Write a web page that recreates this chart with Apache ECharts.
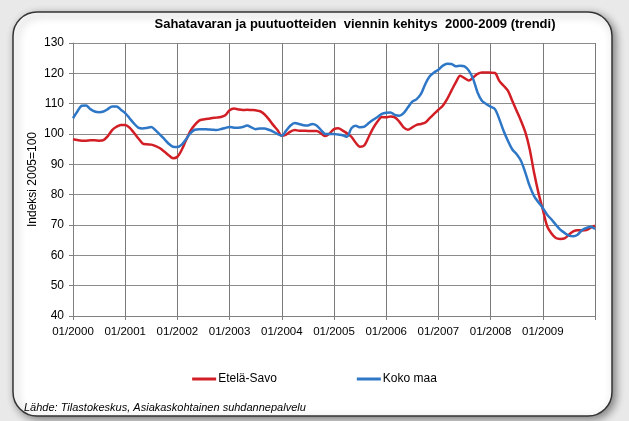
<!DOCTYPE html>
<html>
<head>
<meta charset="utf-8">
<script src="https://cdn.jsdelivr.net/npm/echarts@6/dist/echarts.min.js"></script>
<style>
  html, body { margin: 0; padding: 0; background: #e9e9e9; }
  #chart { width: 629px; height: 421px; }
</style>
</head>
<body>
<div id="chart"></div>
<script>
// kuukausittainen trendi-indeksi, 01/2000 - 01/2010 (2005=100)
const years = [2000, 2001, 2002, 2003, 2004, 2005, 2006, 2007, 2008, 2009, 2010];

const eteläSavo = [
  98.3, 98.0, 97.8, 97.8, 97.9, 97.9, 97.8, 98.0, 99.3, 101.3, 102.4, 103.0,
  103.0, 102.1, 100.4, 98.6, 96.9, 96.6, 96.5, 96.0, 95.3, 94.2, 93.0, 92.0,
  92.5, 94.8, 98.0, 101.0, 103.0, 104.4, 104.8, 105.0, 105.3, 105.4, 105.6, 106.2,
  107.8, 108.4, 108.1, 107.9, 108.0, 107.9, 107.8, 107.5, 106.5, 104.9, 103.0, 101.3,
  99.4, 99.8, 100.8, 101.3, 101.1, 101.1, 101.0, 101.0, 101.0, 100.2, 99.3, 100.2,
  101.6, 101.9, 101.1, 100.2, 99.1, 97.1, 95.8, 96.3, 99.1, 101.9, 104.1, 105.6,
  105.5, 105.8, 105.5, 104.1, 102.2, 101.4, 102.2, 103.0, 103.3, 103.8, 105.2, 106.6,
  108.0, 109.3, 111.5, 114.3, 117.0, 119.2, 118.4, 117.6, 118.7, 119.8, 120.3, 120.3,
  120.2, 120.1, 117.5, 115.9, 114.2, 110.9, 107.6, 104.3, 100.5, 94.9, 87.2, 80.6,
  75.1, 69.6, 67.2, 65.7, 65.4, 65.6, 66.8, 67.9, 68.3, 68.2, 68.3, 69.1,
  69.8
];

const kokoMaa = [
  105.2, 107.4, 109.3, 109.4, 108.2, 107.4, 107.2, 107.4, 108.2, 109.1, 109.1, 108.0,
  106.9, 105.2, 103.5, 102.1, 101.8, 102.0, 102.3, 101.2, 99.8, 98.3, 96.8, 95.8,
  95.7, 96.5, 98.3, 100.3, 101.4, 101.6, 101.6, 101.5, 101.4, 101.3, 101.6, 102.0,
  102.3, 102.1, 102.1, 102.3, 102.8, 102.2, 101.6, 101.8, 101.8, 101.4, 100.8, 100.0,
  99.4, 101.1, 102.8, 103.6, 103.3, 102.9, 102.8, 103.3, 102.8, 101.3, 100.0, 100.0,
  100.0, 99.8, 99.6, 99.1, 101.9, 102.7, 102.2, 102.4, 103.6, 104.7, 105.6, 106.6,
  107.0, 107.1, 106.3, 106.0, 106.9, 108.8, 110.7, 111.5, 113.2, 116.5, 119.0, 120.3,
  121.2, 122.5, 123.2, 123.1, 122.3, 122.5, 122.3, 120.9, 118.1, 113.7, 111.0, 109.9,
  109.0, 108.2, 104.9, 101.0, 97.7, 94.9, 93.3, 91.1, 87.2, 82.8, 79.5, 77.5,
  75.6, 73.4, 71.8, 70.1, 68.5, 67.4, 66.5, 66.3, 66.8, 68.3, 69.0, 69.4,
  68.7
];

// kuukausiluokat 01/2000 ... 01/2010
const categories = [];
years.forEach(function (y, i) {
  for (let m = 1; m <= 12; m++) {
    if (i === years.length - 1 && m > 1) break;
    categories.push((m < 10 ? "0" + m : "" + m) + "/" + y);
  }
});

const font = "Liberation Sans, Arial, sans-serif";
const yearTick = function (index) { return index % 12 === 0; };

const chart = echarts.init(document.getElementById("chart"));
chart.setOption({
  backgroundColor: "#e9e9e9",
  animation: false,
  textStyle: { fontFamily: font },
  graphic: [
    {
      type: "rect",
      z: -10,
      shape: { x: 13, y: 12, width: 599, height: 404, r: 24 },
      style: {
        fill: "#ffffff",
        stroke: "#333333",
        lineWidth: 1.5,
        shadowBlur: 8,
        shadowOffsetX: 3,
        shadowOffsetY: 3,
        shadowColor: "rgba(0,0,0,0.45)",
      },
    },
    {
      type: "text",
      left: 24,
      top: 402,
      style: {
        text: "Lähde: Tilastokeskus, Asiakaskohtainen suhdannepalvelu",
        font: "italic 11px " + font,
        fill: "#000",
      },
    },
  ],
  title: {
    text: "Sahatavaran ja puutuotteiden  viennin kehitys  2000-2009 (trendi)",
    left: 350,
    textAlign: "center",
    top: 13,
    textStyle: { fontSize: 13, fontWeight: "bold", color: "#000", fontFamily: font },
  },
  legend: {
    bottom: 31,
    left: "center",
    itemGap: 80,
    itemWidth: 24,
    itemHeight: 3,
    icon: "rect",
    textStyle: { fontSize: 12, color: "#000", padding: [0, 0, 0, -3] },
    data: ["Etelä-Savo", "Koko maa"],
  },
  grid: { left: 73, right: 34, top: 43, bottom: 105 },
  xAxis: {
    type: "category",
    boundaryGap: false,
    data: categories,
    axisLine: { lineStyle: { color: "#808080", width: 1 } },
    axisTick: { interval: yearTick, length: 4, lineStyle: { color: "#808080" } },
    axisLabel: {
      interval: function (index) { return index % 12 === 0 && index < categories.length - 1; },
      color: "#000",
      fontSize: 11.5,
      margin: 10,
    },
    splitLine: { show: true, interval: yearTick, lineStyle: { color: "#7a7a7a", width: 1 } },
  },
  yAxis: {
    type: "value",
    min: 40,
    max: 130,
    interval: 10,
    name: "Indeksi 2005=100",
    nameLocation: "middle",
    nameGap: 34,
    nameMoveOverlap: false,
    nameTextStyle: { fontSize: 12, color: "#000" },
    axisLine: { show: true, lineStyle: { color: "#808080" } },
    axisTick: { show: true, length: 4, lineStyle: { color: "#808080" } },
    axisLabel: { color: "#000", fontSize: 12, margin: 9 },
    splitLine: { lineStyle: { color: "#8c8c8c", width: 1 } },
  },
  series: [
    {
      name: "Etelä-Savo",
      type: "line",
      data: eteläSavo,
      smooth: 0.3,
      showSymbol: false,
      itemStyle: { color: "#d21f26" },
      lineStyle: { color: "#d21f26", width: 2.5 },
    },
    {
      name: "Koko maa",
      type: "line",
      data: kokoMaa,
      smooth: 0.3,
      showSymbol: false,
      itemStyle: { color: "#2e77c6" },
      lineStyle: { color: "#2e77c6", width: 2.5 },
    },
  ],
});
</script>
</body>
</html>
